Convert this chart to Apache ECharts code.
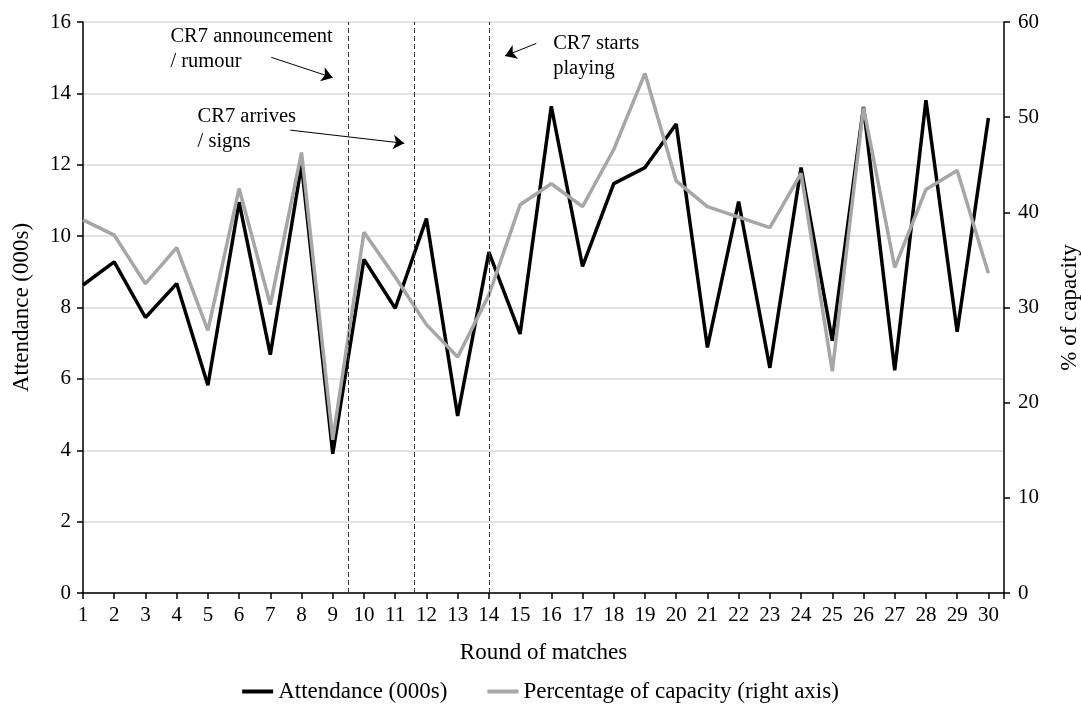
<!DOCTYPE html>
<html>
<head>
<meta charset="utf-8">
<script src="https://cdn.jsdelivr.net/npm/echarts@6/dist/echarts.min.js"></script>
<style>
html,body{margin:0;padding:0;background:#fff;}
#chart{width:1081px;height:713px;}
</style>
</head>
<body>
<div id="chart"></div>
<script>
var rounds = [1,2,3,4,5,6,7,8,9,10,11,12,13,14,15,16,17,18,19,20,21,22,23,24,25,26,27,28,29,30];
var xTickLabels = ['1','2','3','4','5','6','7','8','9','10','11','12','13','14','15','16','17','18','19','20','21','22','23','24','25','26','27','28','29','30'];
var attendance = [8.63,9.28,7.72,8.67,5.82,10.95,6.68,12.0,3.90,9.35,7.98,10.49,4.96,9.55,7.26,13.64,9.15,11.47,11.92,13.14,6.88,10.97,6.31,11.92,7.07,13.62,6.24,13.81,7.32,13.31];
var capacityPct = [39.2,37.6,32.5,36.3,27.6,42.5,30.3,46.3,16.1,37.9,33.2,28.2,24.8,31.3,40.8,43.0,40.6,46.6,54.6,43.3,40.6,39.5,38.4,44.1,23.3,51.0,34.2,42.4,44.4,33.6];
var eventRounds = [9.5, 11.6, 14.0];
var annotationTexts = ['CR7 announcement\n/ rumour', 'CR7 arrives\n/ signs', 'CR7 starts\nplaying'];
var annotationAnchors = [[3.80, 15.24], [4.67, 13.0], [16.06, 15.05]];
var arrowStarts = [[7.03, 15.01], [7.64, 12.97], [15.52, 15.40]];
var arrowEnds = [[9.00, 14.44], [11.29, 12.60], [14.52, 15.05]];

var FONT = "'Liberation Serif', 'Times New Roman', serif";
var chart = echarts.init(document.getElementById('chart'), null, {renderer:'canvas'});

var attData = rounds.map(function(r,i){return [r, attendance[i]];});
var capData = rounds.map(function(r,i){return [r, capacityPct[i]];});

var option = {
  backgroundColor: '#fff',
  animation: false,
  textStyle: {fontFamily: FONT, color: '#000'},
  grid: {left: 83, right: 77, top: 22, bottom: 120, containLabel: false, outerBoundsMode: 'none'},
  legend: {
    bottom: 5, left: 'center',
    itemWidth: 31, itemHeight: 4, itemGap: 40,
    icon: 'rect',
    textStyle: {fontFamily: FONT, fontSize: 23, color: '#000'},
    data: ['Attendance (000s)', 'Percentage of capacity (right axis)']
  },
  xAxis: {
    type: 'value', min: 1, max: 30.5, interval: 1,
    name: 'Round of matches', nameLocation: 'middle', nameGap: 48,
    nameTextStyle: {fontFamily: FONT, fontSize: 23, color: '#000'},
    axisLine: {show: true, onZero: false, lineStyle: {color: '#000', width: 1.5}},
    axisTick: {show: true, length: 6, lineStyle: {color: '#000', width: 1.5}},
    axisLabel: {
      fontFamily: FONT, fontSize: 21, color: '#000', margin: 12,
      formatter: function(v){ var k = Math.round(v); return (Math.abs(v-k) < 1e-6 && k >= 1 && k <= 30) ? xTickLabels[k-1] : ''; }
    },
    splitLine: {show: false}
  },
  yAxis: [{
    type: 'value', min: 0, max: 16, interval: 2, position: 'left',
    name: 'Attendance (000s)', nameLocation: 'middle', nameGap: 50, nameRotate: 90,
    nameTextStyle: {fontFamily: FONT, fontSize: 23, color: '#000'},
    axisLine: {show: true, onZero: false, lineStyle: {color: '#000', width: 1.5}},
    axisTick: {show: true, length: 6, lineStyle: {color: '#000', width: 1.5}},
    axisLabel: {fontFamily: FONT, fontSize: 21, color: '#000', margin: 12},
    splitLine: {show: true, lineStyle: {color: '#d9d9d9', width: 1.5}}
  }, {
    type: 'value', min: 0, max: 60, interval: 10, position: 'right',
    name: '% of capacity', nameLocation: 'middle', nameGap: 54, nameRotate: 90,
    nameTextStyle: {fontFamily: FONT, fontSize: 23, color: '#000'},
    axisLine: {show: true, onZero: false, lineStyle: {color: '#000', width: 1.5}},
    axisTick: {show: true, length: 6, lineStyle: {color: '#000', width: 1.5}},
    axisLabel: {fontFamily: FONT, fontSize: 21, color: '#000', margin: 14},
    splitLine: {show: false}
  }],
  series: [{
    name: 'Attendance (000s)', type: 'line', yAxisIndex: 0,
    data: attData, showSymbol: false, symbol: 'none',
    lineStyle: {color: '#000', width: 3.5}, itemStyle: {color: '#000'},
    z: 3,
    markLine: {
      silent: true, symbol: ['none', 'arrow'], symbolSize: 11,
      label: {show: false},
      itemStyle: {color: '#000'},
      lineStyle: {color: '#000', width: 1, type: 'solid'},
      data: arrowStarts.map(function(s, i){
        return [{coord: s, symbol: 'none'}, {coord: arrowEnds[i], symbol: 'arrow', symbolSize: 11}];
      })
    }
  }, {
    name: 'Percentage of capacity (right axis)', type: 'line', yAxisIndex: 1,
    data: capData, showSymbol: false, symbol: 'none',
    lineStyle: {color: '#a6a6a6', width: 3.5}, itemStyle: {color: '#a6a6a6'},
    z: 4,
    markLine: {
      silent: true, symbol: ['none', 'none'],
      label: {show: false},
      lineStyle: {color: '#333', width: 1, type: [5, 3]},
      data: eventRounds.map(function(x){ return {xAxis: x}; })
    }
  }]
};
chart.setOption(option);

var graphics = annotationTexts.map(function(t, i){
  var p = chart.convertToPixel({xAxisIndex: 0, yAxisIndex: 0}, annotationAnchors[i]);
  return {
    type: 'text', x: p[0], y: p[1], z: 10,
    style: {text: t, fontFamily: FONT, fontSize: 20.5, lineHeight: 25, fill: '#000', align: 'left', verticalAlign: 'middle'}
  };
});
chart.setOption({graphic: graphics});
</script>
</body>
</html>
